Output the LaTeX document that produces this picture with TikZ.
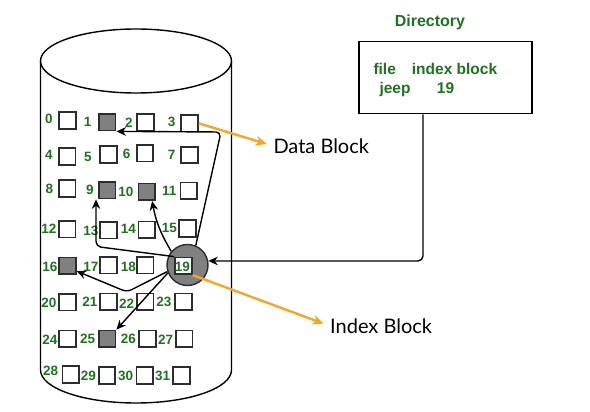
\documentclass[tikz,border=0pt]{standalone}
\usepackage{fontspec}
\setmainfont{Liberation Sans}
\newfontfamily\lato{Lato}
\usetikzlibrary{arrows.meta}
\definecolor{numgreen}{RGB}{30,115,30}
\definecolor{arrorange}{RGB}{245,166,35}
\definecolor{boxgray}{RGB}{128,128,128}
\definecolor{edgegray}{RGB}{45,45,45}
\begin{document}
\begin{tikzpicture}[x=1pt,y=-1pt,
  blk/.style={draw=edgegray, line width=1.8pt, fill=white, minimum size=16.6pt, inner sep=0pt},
  used/.style={blk, fill=boxgray},
  num/.style={text=numgreen, font=\fontsize{13.5}{13.5}\selectfont\bfseries, inner sep=0pt},
  dirtxt/.style={text=numgreen, font=\fontsize{15.5}{15.5}\selectfont\bfseries, inner sep=0pt, anchor=base west},
  callout/.style={font=\lato\fontsize{20}{20}\selectfont, inner sep=0pt, anchor=west},
  link/.style={line width=1.4pt, -{Stealth[length=9.5pt,width=8.5pt]}, rounded corners=5pt},
  orangearrow/.style={draw=arrorange, line width=2.4pt, -{Stealth[length=11pt,width=10pt]}, shorten >=7pt},
  outline/.style={line width=1.4pt}
]
\useasboundingbox (0,0) rectangle (590,412);
% cylinder
\draw[outline] (136,61) ellipse [x radius=95.5, y radius=32];
\draw[outline] (40.5,61) -- (40.5,370) arc[start angle=180, end angle=0, x radius=95.5, y radius=33] -- (231.5,61);
% index circle
\node[circle, draw=edgegray, fill=boxgray, line width=1.4pt, minimum size=41pt, inner sep=0pt] (circ) at (187.5,265) {};
% blocks
\node[blk]  (s0)  at (67.5,120.5) {};
\node[used] (s1)  at (107.2,122.2) {};
\node[blk]  (s2)  at (145.5,122.2) {};
\node[blk]  (s3)  at (189.5,123.3) {};
\node[blk]  (s4)  at (67.2,156.5) {};
\node[blk]  (s5)  at (108.5,154.5) {};
\node[blk]  (s6)  at (145,153.3) {};
\node[blk]  (s7)  at (189.5,155) {};
\node[blk]  (s8)  at (67.2,188.5) {};
\node[used] (s9)  at (107.2,190.2) {};
\node[used] (s10) at (146.8,191.8) {};
\node[blk]  (s11) at (188.8,190.8) {};
\node[blk]  (s12) at (67.2,229.2) {};
\node[blk]  (s13) at (108.5,230.2) {};
\node[blk]  (s14) at (146.8,229.8) {};
\node[blk]  (s15) at (187.5,228.5) {};
\node[used] (s16) at (67.5,265.8) {};
\node[blk]  (s17) at (108.5,265.2) {};
\node[blk]  (s18) at (145.2,265.2) {};
\node[blk]  (s19) at (183.3,265.8) {};
\node[blk]  (s20) at (67.5,302.2) {};
\node[blk]  (s21) at (108.5,301.7) {};
\node[blk]  (s22) at (145.2,301.7) {};
\node[blk]  (s23) at (183.3,301.7) {};
\node[blk]  (s24) at (67.5,338.8) {};
\node[used] (s25) at (107.2,338.8) {};
\node[blk]  (s26) at (147.5,338.8) {};
\node[blk]  (s27) at (184.2,338.8) {};
\node[blk]  (s28) at (70.8,374.5) {};
\node[blk]  (s29) at (107,375.5) {};
\node[blk]  (s30) at (144.7,375.5) {};
\node[blk]  (s31) at (181.5,375.5) {};
% numbers
\node[num] (n0)  at (49,119.3) {0};
\node[num] (n1)  at (87.7,121.7) {1};
\node[num] (n2)  at (129,122.3) {2};
\node[num] (n3)  at (171.7,122) {3};
\node[num] (n4)  at (49,155) {4};
\node[num] (n5)  at (88,157.3) {5};
\node[num] (n6)  at (126.7,154.3) {6};
\node[num] (n7)  at (171.7,155) {7};
\node[num] (n8)  at (49.3,189) {8};
\node[num] (n9)  at (90,190) {9};
\node[num] (n10) at (126,192.3) {10};
\node[num] (n11) at (169.3,191) {11};
\node[num] (n12) at (49,229) {12};
\node[num] (n13) at (91,231) {13};
\node[num] (n14) at (128.3,229) {14};
\node[num] (n15) at (169.3,227.7) {15};
\node[num] (n16) at (50,266.7) {16};
\node[num] (n17) at (91,266.7) {17};
\node[num] (n18) at (128.3,266.7) {18};
\node[num] (n19) at (182.3,266.7) {19};
\node[num] (n20) at (49,302.7) {20};
\node[num] (n21) at (90,301.7) {21};
\node[num] (n22) at (126.7,303.3) {22};
\node[num] (n23) at (164,301.7) {23};
\node[num] (n24) at (50,339.3) {24};
\node[num] (n25) at (87.7,339.3) {25};
\node[num] (n26) at (128.3,339.3) {26};
\node[num] (n27) at (165.7,339.3) {27};
\node[num] (n28) at (50.7,371) {28};
\node[num] (n29) at (88.3,376) {29};
\node[num] (n30) at (125.7,376) {30};
\node[num] (n31) at (162.7,376) {31};
% directory
\node[text=numgreen, font=\fontsize{16}{16}\selectfont\bfseries, inner sep=0pt, anchor=base] (dirtitle) at (430,26.5) {Directory};
\node[draw, line width=1.4pt, minimum width=173pt, minimum height=72pt, inner sep=0pt] (dir) at (445.5,77.7) {};
\node[dirtxt] (hfile) at (373.3,75) {file};
\node[dirtxt] (hindex) at (411.7,75) {index block};
\node[dirtxt] (vfile) at (379.3,94) {jeep};
\node[dirtxt] (vindex) at (436.7,94) {19};
% callouts
\node[callout] (db) at (273.3,146) {Data Block};
\node[callout] (ib) at (330,326) {Index Block};
% waypoints
\coordinate (d1) at (423,114.3);
\coordinate (w1) at (221,132);
\coordinate (w9) at (96,246.5);
\coordinate (w16) at (127,292);
% connectors
\draw[link] (d1) |- (circ.11);
\draw[link] (circ.67) -- (w1) -- (s1.south east);
\draw[link] (s19.north west) -- (w9) -- (w9 |- s9.south);
\draw[line width=1.4pt, -{Stealth[length=9.5pt,width=8.5pt]}] (circ.140) to[bend left=10] (s10.-60);
\draw[link] (circ.198) -- (w16) -- (s16.-30);
\draw[link] (circ.202) -- (s25.north east);
\draw[orangearrow] (s3.east) -- (db.west);
\draw[orangearrow] (s19.south east) -- (ib.west);
\end{tikzpicture}
\end{document}
